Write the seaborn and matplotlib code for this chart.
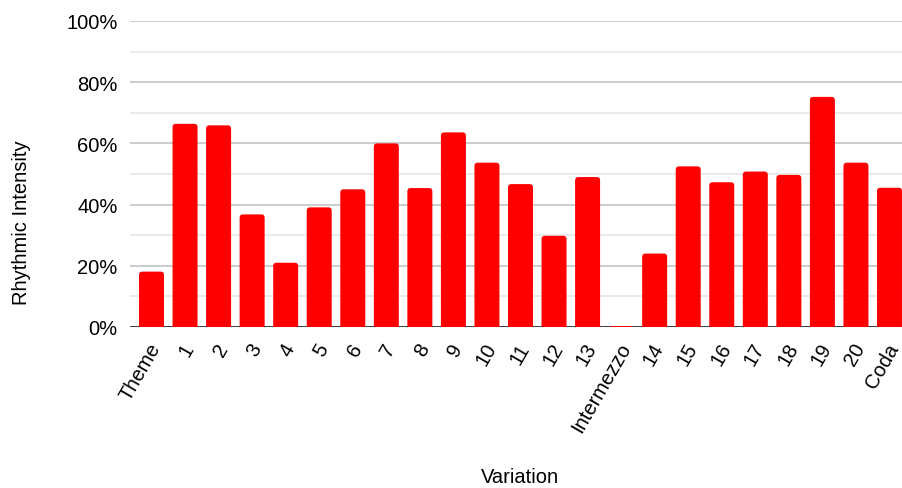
import matplotlib
matplotlib.use("Agg")
import matplotlib.pyplot as plt
from matplotlib.patches import FancyBboxPatch
from matplotlib.ticker import MultipleLocator, FuncFormatter
from matplotlib.transforms import ScaledTranslation
import numpy as np
import pandas as pd
import seaborn as sns

# Rhythmic intensity (%) for each section of the variation set
sections = ["Theme", "1", "2", "3", "4", "5", "6", "7", "8", "9", "10", "11",
            "12", "13", "Intermezzo", "14", "15", "16", "17", "18", "19", "20", "Coda"]
intensity = [18.1, 66.4, 65.9, 36.8, 21.0, 39.1, 45.0, 60.0, 45.4, 63.6, 53.7, 46.7,
             29.8, 49.0, 0.3, 24.0, 52.5, 47.3, 50.8, 49.7, 75.2, 53.7, 45.5]

df = pd.DataFrame({"Variation": sections, "Rhythmic Intensity": intensity})

sns.set_theme(style="white")
plt.rcParams["font.family"] = ["Liberation Sans", "DejaVu Sans"]

fig = plt.figure(figsize=(9.02, 4.89), dpi=100)
ax = fig.add_axes([130 / 902, 1 - 328 / 489, 772 / 902, 306 / 489])

sns.barplot(data=df, x="Variation", y="Rhythmic Intensity", color="#ff0000",
            saturation=1, width=0.745, ax=ax, zorder=3)

ax.set_xlim(-0.641, 22.373)
ax.set_ylim(0, 100)

# Round the top corners of each bar (bottom is pushed below zero and clipped)
fig.canvas.draw()
px_x = ax.transData.transform([(1, 0)])[0][0] - ax.transData.transform([(0, 0)])[0][0]
px_y = ax.transData.transform([(0, 1)])[0][1] - ax.transData.transform([(0, 0)])[0][1]
aspect = px_x / px_y
r = 0.1
for p in list(ax.patches):
    x0, w, h = p.get_x(), p.get_width(), p.get_height()
    ext = r * aspect
    fb = FancyBboxPatch((x0, -ext), w, h + ext,
                        boxstyle=f"round,pad=0,rounding_size={r}",
                        mutation_aspect=aspect, facecolor="#ff0000",
                        edgecolor="none", zorder=3, clip_on=True)
    ax.add_patch(fb)
    p.remove()

# Gridlines: major every 20 %, minor every 10 %
ax.yaxis.set_major_locator(MultipleLocator(20))
ax.yaxis.set_minor_locator(MultipleLocator(10))
ax.yaxis.set_major_formatter(FuncFormatter(lambda v, _: f"{v:.0f}%"))
ax.grid(axis="y", which="major", color="#c4c4c4", linewidth=1.2, zorder=0)
ax.grid(axis="y", which="minor", color="#e6e6e6", linewidth=1.2, zorder=0)
ax.grid(axis="x", visible=False)
ax.axhline(0, color="#333333", linewidth=1.3, zorder=2)

for s in ax.spines.values():
    s.set_visible(False)

ax.tick_params(axis="y", which="both", length=0, pad=9, labelsize=14.5, colors="#000000")
ax.tick_params(axis="x", length=0, pad=9, labelsize=14.5, colors="#000000")
shift = ScaledTranslation(-3.5 / 100, 0, fig.dpi_scale_trans)
for lab in ax.get_xticklabels():
    lab.set_rotation(60)
    lab.set_ha("right")
    lab.set_va("top")
    lab.set_rotation_mode("anchor")
    lab.set_transform(lab.get_transform() + shift)

ax.set_ylabel("Rhythmic Intensity", fontsize=14.5, color="#000000")
ax.yaxis.set_label_coords(-0.14, 0.343)
ax.set_xlabel("Variation", fontsize=14.5, color="#000000")
ax.xaxis.set_label_coords(0.505, -0.49)
ax.xaxis.label.set_va("center")
ax.yaxis.label.set_va("center")

fig.savefig("out.png", dpi=100)
